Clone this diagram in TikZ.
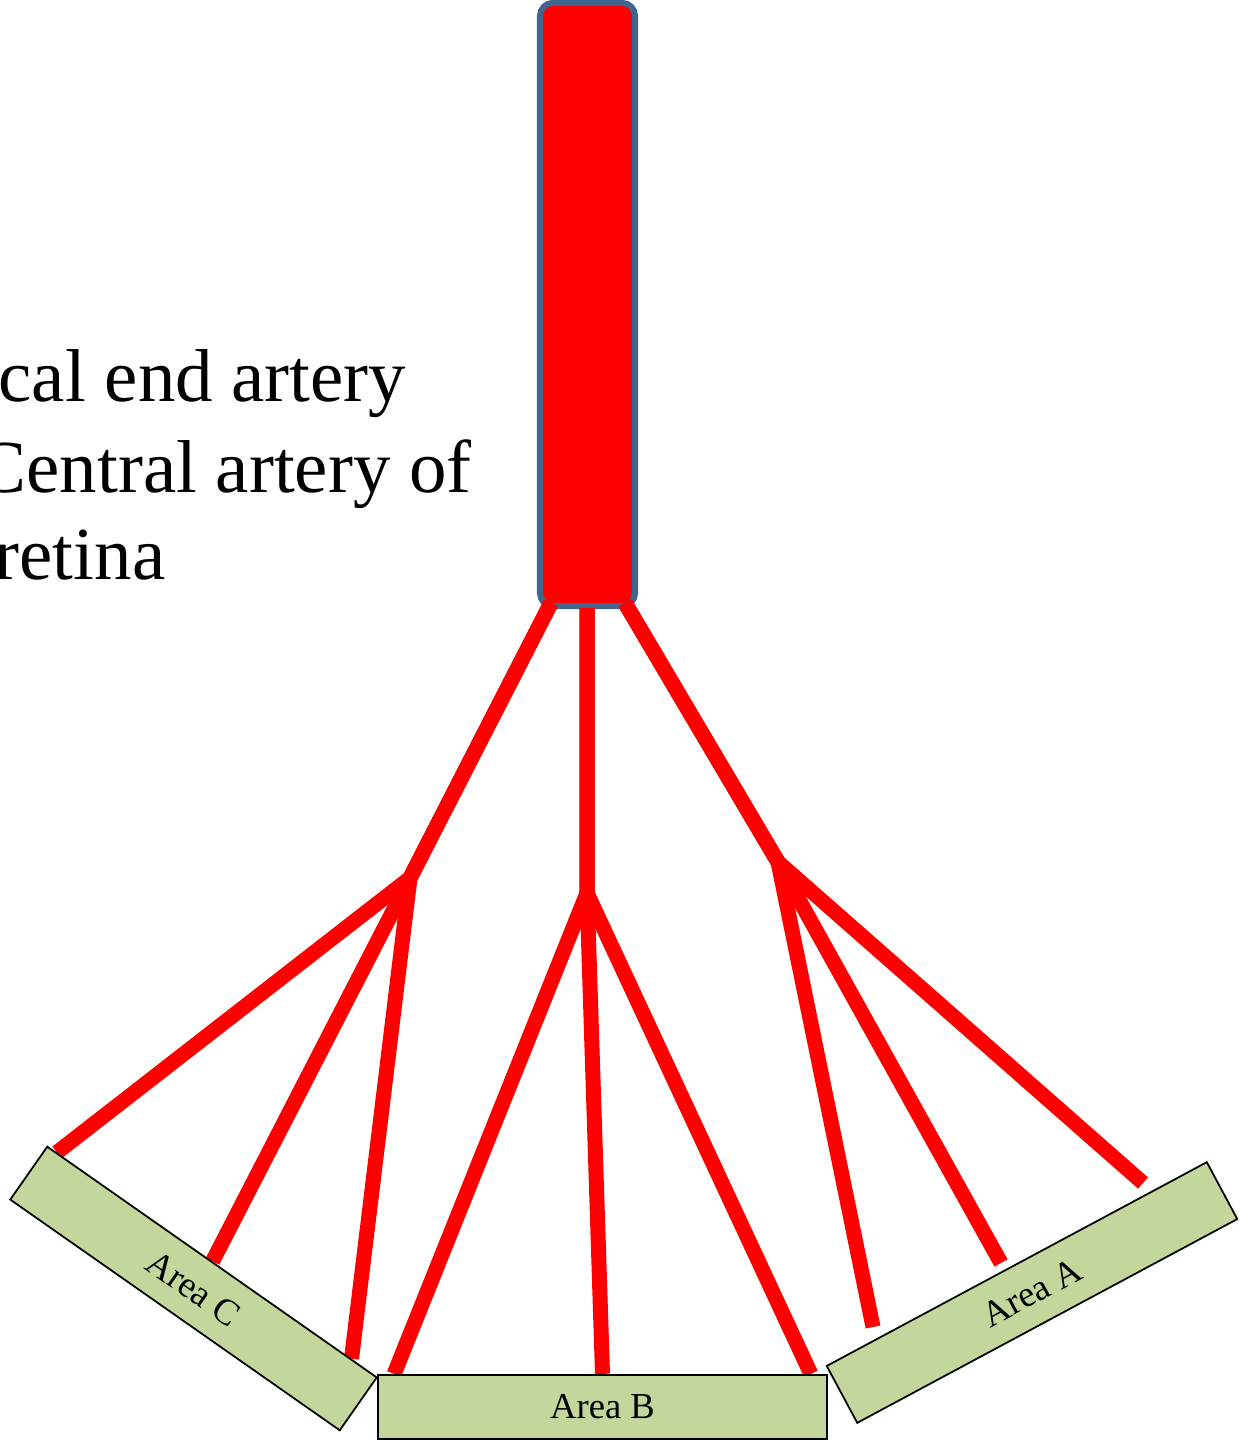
\documentclass[tikz,border=0pt]{standalone}
\usepackage{fontspec}
\setmainfont{Liberation Serif}
\usepackage{tikz}
\usetikzlibrary{calc, backgrounds}
\usepackage{xcolor}
\definecolor{vesselred}{RGB}{255,0,0}
\definecolor{trunkblue}{RGB}{65,103,145}
\definecolor{areagreen}{RGB}{195,214,155}
\tikzset{
  trunk/.style={rectangle, rounded corners=1.3mm, draw=trunkblue,
                fill=vesselred, line width=1.7pt, minimum width=0.95cm,
                minimum height=6.03cm, inner sep=0pt},
  areabox/.style={rectangle, draw=black, fill=areagreen, line width=0.5pt,
                  minimum height=0.645cm, inner sep=0pt,
                  font=\fontsize{10.4}{12}\selectfont},
  vessel/.style={draw=vesselred, line width=0.15cm},
  note/.style={anchor=base west, inner sep=0pt,
               font=\fontsize{21.3}{25}\selectfont},
}

\begin{document}
\begin{tikzpicture}[x=0.01cm, y=-0.01cm]
  \useasboundingbox (0,0) rectangle (1239,1440);
  \clip (0,0) rectangle (1239,1440);

  % text on the left
  \node[note] (line1) at (-2,402) {cal end artery};
  \node[note] (line2) at (-24,492) {Central artery of};
  \node[note] (line3) at (-6,580) {retina};

  % areas supplied
  \node[areabox, minimum width=4.02cm, rotate=-35] (areaC) at (193.5,1288.5) {Area C};
  \node[areabox, minimum width=4.49cm] (areaB) at (602.5,1407) {Area B};
  \node[areabox, minimum width=4.31cm, rotate=28.2] (areaA) at (1032,1292.5) {Area A};

  \coordinate (endC1) at ($(areaC.north west)!0.03!(areaC.north east)$);
  \coordinate (endC2) at ($(areaC.north west)!0.50!(areaC.north east)$);
  \coordinate (endC3) at ($(areaC.north west)!0.92!(areaC.north east)$);
  \coordinate (endB1) at ($(areaB.north west)!0.038!(areaB.north east)$);
  \coordinate (endB2) at ($(areaB.north west)!0.50!(areaB.north east)$);
  \coordinate (endB3) at ($(areaB.north west)!0.962!(areaB.north east)$);
  \coordinate (endA1) at (873,1327);
  \coordinate (endA2) at (1001,1263);
  \coordinate (endA3) at (1143,1183);

  % artery and branches
  \begin{scope}[on background layer]
    \node[trunk] (artery) at (587.5,304.5) {};
    \coordinate (rootC) at (551,603);
    \coordinate (rootB) at (587,608);
    \coordinate (rootA) at (625,603);
    \coordinate (forkC) at (410,878);
    \coordinate (forkB) at (587,893);
    \coordinate (forkA) at (778,862);
    \foreach \k in {1,2,3} {
      \draw[vessel] (rootC) -- (forkC) -- (endC\k);
      \draw[vessel] (rootB) -- (forkB) -- (endB\k);
      \draw[vessel] (rootA) -- (forkA) -- (endA\k);
    }
  \end{scope}
\end{tikzpicture}
\end{document}
